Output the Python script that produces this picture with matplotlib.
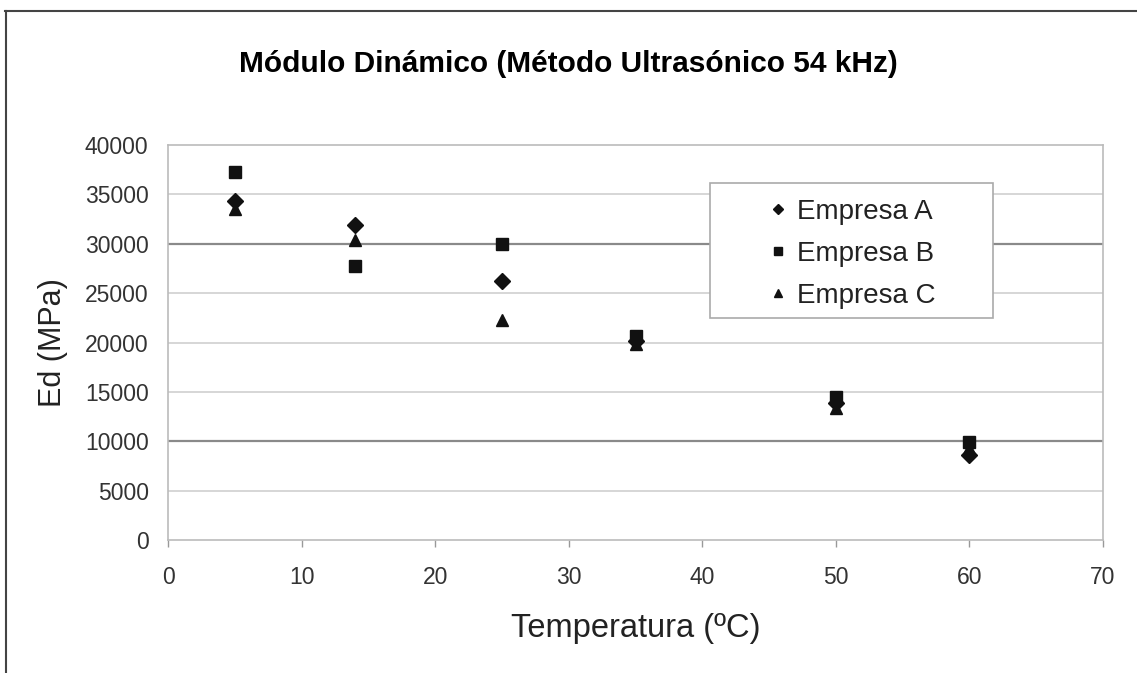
import matplotlib
matplotlib.use("Agg")
import matplotlib.pyplot as plt
from matplotlib.lines import Line2D
from matplotlib.patches import Rectangle

plt.rcParams["font.family"] = ["Liberation Sans", "DejaVu Sans"]

# values
temperatura = [5, 14, 25, 35, 50, 60]
empresa_a = [34300, 31900, 26200, 20200, 13900, 8600]
empresa_b = [37300, 27700, 30000, 20700, 14500, 9900]
empresa_c = [33500, 30400, 22300, 19900, 13400, 9300]
x_ticks = [0, 10, 20, 30, 40, 50, 60, 70]
y_ticks = [0, 5000, 10000, 15000, 20000, 25000, 30000, 35000, 40000]

fig = plt.figure(figsize=(11.37, 6.73), dpi=100)
ax = fig.add_axes([0.1478, 0.1976, 0.8223, 0.5869])

# outer frame (top and left only, as in the scan)
fig.add_artist(Line2D([0.004, 1.0], [0.984, 0.984], color="#444444", lw=1.5,
                      transform=fig.transFigure))
fig.add_artist(Line2D([0.005, 0.005], [0.0, 0.984], color="#444444", lw=1.5,
                      transform=fig.transFigure))

ax.set_xlim(0, 70)
ax.set_ylim(0, 40000)
ax.set_xticks(x_ticks)
ax.set_yticks(y_ticks)
ax.tick_params(axis="both", labelsize=16.5, colors="#333333", length=5, width=1)
ax.tick_params(axis="y", length=0, pad=14)
ax.tick_params(axis="x", color="#999999", pad=14)

for v in y_ticks[1:-1]:
    dark = v in (10000, 30000)
    ax.axhline(v, color="#8a8a8a" if dark else "#cfcfcf",
               lw=1.6 if dark else 1.2, zorder=0)

for s in ax.spines.values():
    s.set_color("#bbbbbb")
    s.set_linewidth(1.2)

ax.plot(temperatura, empresa_a, "D", color="#111111", ms=8, ls="none",
        label="Empresa A", zorder=3)
ax.plot(temperatura, empresa_b, "s", color="#111111", ms=8, ls="none",
        label="Empresa B", zorder=3)
ax.plot(temperatura, empresa_c, "^", color="#111111", ms=9, ls="none",
        label="Empresa C", zorder=3)

ax.set_xlabel("Temperatura (ºC)", fontsize=23.5, color="#222222", labelpad=17)
ax.set_ylabel("Ed (MPa)", fontsize=22, color="#222222", labelpad=12)
fig.suptitle("Módulo Dinámico (Método Ultrasónico 54 kHz)", fontsize=21.5,
             fontweight="bold", y=0.925)

# legend box drawn separately: it is wider than its contents in the reference
ax.add_patch(Rectangle((0.5797, 0.562), 0.3027, 0.342, transform=ax.transAxes,
                       facecolor="white", edgecolor="#aaaaaa", lw=1.2, zorder=4))
leg = ax.legend(loc="upper left", bbox_to_anchor=(0.6374, 0.863), fontsize=20,
                markerscale=0.7, handletextpad=0.2, labelspacing=0.57,
                borderpad=0, borderaxespad=0, frameon=False, handlelength=1.0)
leg.set_zorder(5)
for t in leg.get_texts():
    t.set_color("#222222")

fig.savefig("out.png", dpi=100, facecolor="white")
plt.close(fig)
